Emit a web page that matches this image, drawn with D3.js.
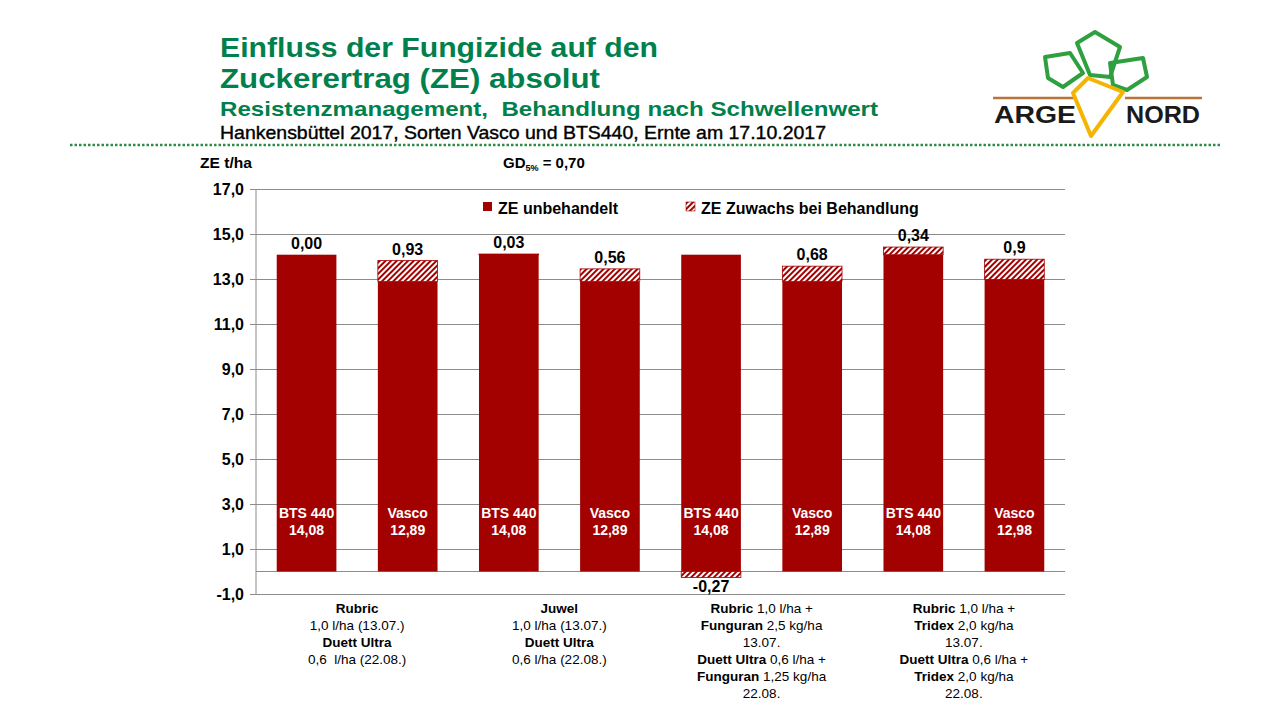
<!DOCTYPE html>
<html>
<head>
<meta charset="utf-8">
<script src="https://cdn.jsdelivr.net/npm/d3@7"></script>
<style>
  body { margin: 0; background: #fff; }
  svg { display: block; font-family: "Liberation Sans", Arial, sans-serif; }
</style>
</head>
<body>
<svg id="chart" width="1280" height="720"></svg>
<script>
// data
const sorts = ["BTS 440", "Vasco", "BTS 440", "Vasco", "BTS 440", "Vasco", "BTS 440", "Vasco"];
const untreated = [14.08, 12.89, 14.08, 12.89, 14.08, 12.89, 14.08, 12.98];
const gain = [0.00, 0.93, 0.03, 0.56, -0.27, 0.68, 0.34, 0.9];
const gainLabels = ["0,00", "0,93", "0,03", "0,56", "-0,27", "0,68", "0,34", "0,9"];
const untreatedLabels = ["14,08", "12,89", "14,08", "12,89", "14,08", "12,89", "14,08", "12,98"];
const yTicks = [-1, 1, 3, 5, 7, 9, 11, 13, 15, 17];
const seriesNames = ["ZE unbehandelt", "ZE Zuwachs bei Behandlung"];
// treatment text under each pair of bars: [bold part, normal part]
const treatments = [
  [[["Rubric", ""]], [["", "1,0 l/ha (13.07.)"]], [["Duett Ultra", ""]], [["", "0,6  l/ha (22.08.)"]]],
  [[["Juwel", ""]], [["", "1,0 l/ha (13.07.)"]], [["Duett Ultra", ""]], [["", "0,6 l/ha (22.08.)"]]],
  [[["Rubric", " 1,0 l/ha +"]], [["Funguran", " 2,5 kg/ha"]], [["", "13.07."]], [["Duett Ultra", " 0,6 l/ha +"]], [["Funguran", " 1,25 kg/ha"]], [["", "22.08."]]],
  [[["Rubric", " 1,0 l/ha +"]], [["Tridex", " 2,0 kg/ha"]], [["", "13.07."]], [["Duett Ultra", " 0,6 l/ha +"]], [["Tridex", " 2,0 kg/ha"]], [["", "22.08."]]]
];

const red = "#A30000";
const green = "#00804C";
const svg = d3.select("#chart");

const defs = svg.append("defs");
const pat = defs.append("pattern")
  .attr("id", "hatch")
  .attr("patternUnits", "userSpaceOnUse")
  .attr("width", 4).attr("height", 4)
  .attr("patternTransform", "rotate(45)");
pat.append("rect").attr("width", 4).attr("height", 4).attr("fill", "#fff");
pat.append("rect").attr("width", 2).attr("height", 4).attr("fill", red);

// titles
const titles = svg.append("g").attr("font-weight", "bold");
const title = (txt, yy, size, w, fill) => titles.append("text")
  .attr("x", 220).attr("y", yy).attr("fill", fill).attr("font-size", size)
  .attr("textLength", w).attr("lengthAdjust", "spacingAndGlyphs")
  .attr("xml:space", "preserve").text(txt);
title("Einfluss der Fungizide auf den", 57, 28, 438, green);
title("Zuckerertrag (ZE) absolut", 88, 28, 380, green);
title("Resistenzmanagement,  Behandlung nach Schwellenwert", 116, 21, 658, green);
title("Hankensbüttel 2017, Sorten Vasco und BTS440, Ernte am 17.10.2017", 139, 19, 606, "#000")
  .attr("font-weight", "normal").attr("stroke", "#000").attr("stroke-width", 0.4);

svg.append("line").attr("x1", 70).attr("x2", 1222).attr("y1", 145).attr("y2", 145)
  .attr("stroke", "#2E8B4A").attr("stroke-width", 2.5).attr("stroke-dasharray", "2.5,2");

// logo
const logo = svg.append("g");
const ln = d3.line().curve(d3.curveLinearClosed);
logo.append("line").attr("x1", 993).attr("x2", 1078).attr("y1", 98).attr("y2", 98)
  .attr("stroke", "#B8753A").attr("stroke-width", 2.5);
logo.append("line").attr("x1", 1125).attr("x2", 1202).attr("y1", 98).attr("y2", 98)
  .attr("stroke", "#B8753A").attr("stroke-width", 2.5);
[
  [[1045, 57], [1070, 53], [1083, 73], [1063, 87], [1048, 78]],
  [[1077, 43], [1095, 32], [1120, 47], [1110, 77], [1090, 75]],
  [[1110, 63], [1143, 58], [1147, 77], [1127, 90], [1113, 85]]
].forEach(p => logo.append("path").attr("d", ln(p)).attr("fill", "none")
  .attr("stroke", "#2FA040").attr("stroke-width", 4).attr("stroke-linejoin", "round"));
logo.append("path").attr("d", ln([[1073, 93], [1088, 78], [1123, 92], [1091, 136]]))
  .attr("fill", "#fff").attr("stroke", "#F4B400").attr("stroke-width", 4).attr("stroke-linejoin", "round");
logo.append("text").attr("x", 994).attr("y", 123).attr("font-size", 24).attr("font-weight", "bold")
  .attr("fill", "#1a1a1a").attr("textLength", 82).attr("lengthAdjust", "spacingAndGlyphs").text("ARGE");
logo.append("text").attr("x", 1126).attr("y", 123).attr("font-size", 24).attr("font-weight", "bold")
  .attr("fill", "#1a1a1a").attr("textLength", 74).attr("lengthAdjust", "spacingAndGlyphs").text("NORD");

// scales
const x = d3.scaleBand().domain(d3.range(sorts.length)).range([256, 1065])
  .paddingInner(0.41).paddingOuter(0.205);
const y = d3.scaleLinear().domain([-1, 17]).range([594, 189]);

// grid + axis
const yAxis = d3.axisLeft(y).tickValues(yTicks).tickSize(-(1065 - 256)).tickPadding(12)
  .tickFormat(d => d3.format(".1f")(d).replace(".", ",").replace("\u2212", "-"));
const ax = svg.append("g").attr("transform", "translate(256,0)").call(yAxis);
ax.select(".domain").remove();
ax.selectAll(".tick line").attr("stroke", "#8c8c8c").attr("x1", -6);
ax.selectAll(".tick text").attr("font-size", 16).attr("font-weight", "bold").attr("fill", "#000")
  .attr("font-family", "'Liberation Sans', Arial, sans-serif");
svg.append("line").attr("x1", 256).attr("x2", 256).attr("y1", y(17)).attr("y2", y(-1))
  .attr("stroke", "#8c8c8c");
svg.append("line").attr("x1", 256).attr("x2", 1065).attr("y1", y(0)).attr("y2", y(0))
  .attr("stroke", "#8c8c8c");

svg.append("text").attr("x", 200).attr("y", 168).attr("font-size", 15).attr("font-weight", "bold")
  .attr("textLength", 52).attr("lengthAdjust", "spacingAndGlyphs").text("ZE t/ha");
const gd = svg.append("text").attr("x", 503).attr("y", 168).attr("font-size", 15)
  .attr("font-weight", "bold");
gd.append("tspan").text("GD");
gd.append("tspan").attr("font-size", 9).attr("dy", 3).text("5%");
gd.append("tspan").attr("dy", -3).text(" = 0,70");

// bars
const bars = svg.append("g");
bars.selectAll(".base").data(untreated).join("rect")
  .attr("x", (d, i) => x(i)).attr("width", x.bandwidth())
  .attr("y", d => y(d)).attr("height", d => y(0) - y(d))
  .attr("fill", red);
bars.selectAll(".gain").data(gain).join("rect")
  .attr("x", (d, i) => x(i)).attr("width", x.bandwidth())
  .attr("y", (d, i) => d >= 0 ? y(untreated[i] + d) : y(0))
  .attr("height", d => Math.abs(y(0) - y(d)))
  .attr("fill", "url(#hatch)")
  .attr("stroke", red).attr("stroke-width", d => d === 0 ? 0 : 0.8);

// labels above/below
svg.append("g").selectAll("text").data(gain).join("text")
  .attr("x", (d, i) => x(i) + x.bandwidth() / 2)
  .attr("y", (d, i) => d >= 0 ? y(untreated[i] + d) - 6 : y(d) + 14)
  .attr("text-anchor", "middle").attr("font-size", 16).attr("font-weight", "bold")
  .text((d, i) => gainLabels[i]);

// inside labels
const inside = svg.append("g").attr("fill", "#fff").attr("font-weight", "bold")
  .attr("font-size", 14).attr("text-anchor", "middle");
inside.selectAll(".s").data(sorts).join("text")
  .attr("x", (d, i) => x(i) + x.bandwidth() / 2).attr("y", y(2.4)).text(d => d);
inside.selectAll(".v").data(untreatedLabels).join("text")
  .attr("x", (d, i) => x(i) + x.bandwidth() / 2).attr("y", y(2.4) + 17).text(d => d);

// legend
const legend = svg.append("g").attr("font-size", 16).attr("font-weight", "bold");
[[483, "red"], [686, "url(#hatch)"]].forEach(([lx, f], i) => {
  legend.append("rect").attr("x", lx).attr("y", 202).attr("width", 9).attr("height", 9)
    .attr("fill", f === "red" ? red : f).attr("stroke", i ? red : "none").attr("stroke-width", 0.6);
  legend.append("text").attr("x", lx + 15).attr("y", 214).text(seriesNames[i]);
});

// treatment text
const tg = svg.append("g").attr("font-size", 13.5).attr("text-anchor", "middle");
treatments.forEach((lines, g) => {
  const cx = (x(2 * g) + x(2 * g + 1) + x.bandwidth()) / 2;
  lines.forEach((parts, k) => {
    const t = tg.append("text").attr("x", cx).attr("y", 613 + k * 17).attr("xml:space", "preserve");
    parts.forEach(([b, n]) => {
      if (b) t.append("tspan").attr("font-weight", "bold").text(b);
      if (n) t.append("tspan").text(n);
    });
  });
});
</script>
</body>
</html>
